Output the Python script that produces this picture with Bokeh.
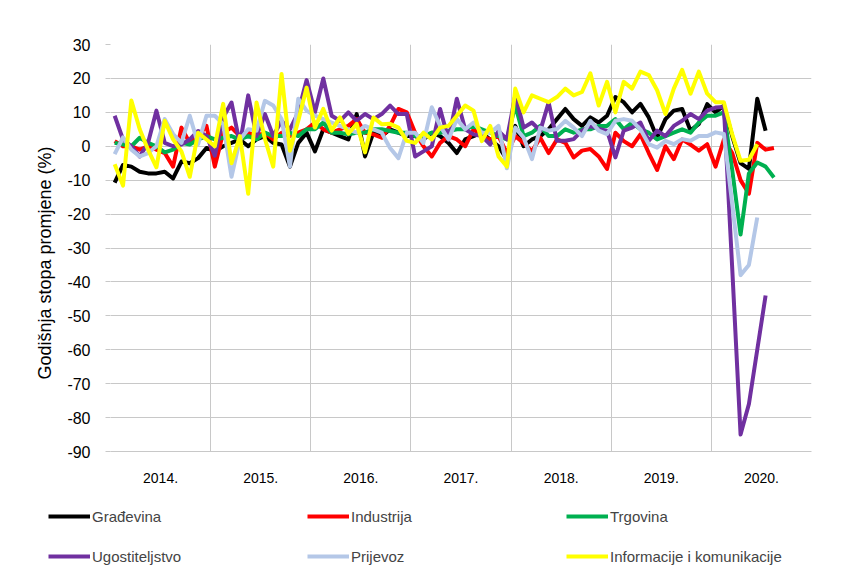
import numpy as np
from bokeh.plotting import figure
from bokeh.models import FixedTicker, Legend, LegendItem
from bokeh.layouts import column
from bokeh.embed import file_html
from bokeh.resources import INLINE

year_labels = ["2014.", "2015.", "2016.", "2017.", "2018.", "2019.", "2020."]
y_ticks = [30, 20, 10, 0, -10, -20, -30, -40, -50, -60, -70, -80, -90]

# Monthly values, Jan 2014 onward
gradjevina = [-10.7, -5.5, -6, -7.5, -8, -8, -7.5, -9.5, -4.5, -5, -3.5, -0.5,
              -1.5, 0, 1, 2, 0, 2, 3, 1, 0.5, -6, 1, 4,
              -1.5, 5, 4, 3, 2, 9.5, -3, 4, 3, 5, 4, 3,
              3, 2, 4, 3, 1, -2, 2, 3, 4, 2, 0, -4,
              6, 0, 2, 3, 5, 8, 11, 8, 6, 8.5, 7, 9,
              14.5, 13, 10, 12.5, 8.5, 2.5, 8, 10.5, 11, 4.6, 6.6, 12.4,
              10, 12, 3, -5, -6.7, 14, 4.6]
industrija = [1.5, 0, 0, -1, 0, -1, -2, -6, 5.5, 1, 3, 6,
              -6, 4, 5.5, 3, 4, 3, 4, 2, 4, 3, 4, 5,
              7, 5, 4, 5, 6, 8, 4, 3.5, 2.5, 6, 11, 10,
              4, 0, -3, 1, 3, 2, 0, 5, 3, 2, 3, -2,
              3, 1, -1.5, 2.5, -2, 2, 1, -3.3, -1.3, -0.8, -3, -6.7,
              4, 1.5, 0, 3.5, -2, -7, 0, -3.8, 2, 0.5, -1.3, 0.6,
              -6, 2, -2, -10, -14, 1, -1, -0.5]
trgovina = [1, 0.5, 0, 2.5, 1, 0, -1.8, -1, 1, 0.5, 2, 3,
            2, 2.5, 3, 2, 3, 2, 4, 3, 3, 4, 3, 5,
            5, 7, 4, 4, 3.5, 4, 4, 5, 5, 4.5, 4, 4,
            3, 3, 4, 4, 4.5, 5, 5, 6, 5, 4, 3, 2,
            12, 3, 4, 6, 3, 3, 5, 4, 5, 5, 6, 6,
            8, 5, 7, 5, 4, 2, 3, 4, 5, 4, 7, 9,
            9, 10, -7, -26, -8, -4.8, -6, -9.2]
ugostiteljstvo = [9, 2, 0, -3, 1, 10.5, 1, 0, 0.5, 2, 4.5, 3,
                  -2.8, 8.5, 12.9, 0.6, 15, 3, 9.5, 3, 7.5, 5, 10, 19.5,
                  10, 20, 9, 7.5, 10, 7.5, 9.5, 8, 9.5, 12, 9.5, 9.5,
                  -3, -1.5, 0, 11, 2, 14, 5, 3.5, 3, 0.5, 4.5, 2,
                  15, 5.5, 7, 4.6, 12.9, 1.6, 1.6, 2.1, 4.6, 6, 5.1, 4.6,
                  -3.3, 4.6, 5.5, 7, 1.6, 4.6, 3, 6, 7.5, 9.5, 8, 10.5,
                  11.4, 11.6, -36, -85, -76, -60, -44]
prijevoz = [-2.3, 2.6, -1, -3, -2, 0, 8, 3.6, 1, 9, 0.6, 9,
            9, 6.5, -9, 2, 5, 4.6, 13.4, 12, 8, -6, 14, 10.5,
            9, 8, 7, 6, 5, 4, 6, 5, 4, -0.5, -3.5, 4,
            4, 1, 11.5, 6, 2, 8, 5, 7, 4, 4, 6, -6.5,
            5.5, 2.6, -3.8, 5.5, 4.6, 5.1, 7.5, 5.5, 3, 7.5, 4.6, 3.6,
            7.5, 8, 7.5, 5, 0.6, -0.4, 1.6, 0.6, 2.1, 1.6, 3, 3,
            4.1, 3.6, -17, -38, -35, -21]
informacije = [-5.3, -11.6, 13.5, 5, -1, -6.2, 7.5, 2, -1.5, -9, 4, 2,
               0, 12.5, -5, 3, -14, 12.9, 2.2, -6, 21.3, -1.3, 7.5, 17.3,
               5.5, 11, 4.6, 8.5, 3.7, 6.6, -1.8, 8.5, 6.5, 6.6, 5.5, 1.6,
               1, 4, 2, 5.5, 6, 9, 12, 10.5, 1.5, 6, -3, -6,
               17, 10, 15, 14, 13, 14.5, 17, 15, 16, 21.5, 12, 19,
               10, 19, 17, 22, 21, 16.5, 9.5, 17, 22.5, 15.5, 22, 15.5,
               13, 13, 3.5, -4.3, -4, 0.6]

series = [
    ("Građevina", gradjevina, "#000000"),
    ("Industrija", industrija, "#FF0000"),
    ("Trgovina", trgovina, "#00B050"),
    ("Ugostiteljstvo", ugostiteljstvo, "#7030A0"),
    ("Prijevoz", prijevoz, "#B4C7E7"),
    ("Informacije i komunikacije", informacije, "#FFFF00"),
]

FONT = "Liberation Sans"
n_years = len(year_labels)
W = 835

p = figure(width=W, height=491, x_range=(0, 12 * n_years), y_range=(-90, 30),
           output_backend="svg", toolbar_location=None,
           min_border_left=110, min_border_right=W - 110 - 701,
           min_border_top=44, min_border_bottom=40)
p.outline_line_color = None

grid_color = "#C8C8C8"
p.xgrid.ticker = FixedTicker(ticks=[12 * k for k in range(1, n_years)])
p.ygrid.ticker = FixedTicker(ticks=y_ticks)
p.xgrid.grid_line_color = grid_color
p.ygrid.grid_line_color = grid_color

centers = [12 * k + 6 for k in range(n_years)]
p.xaxis.ticker = FixedTicker(ticks=centers, minor_ticks=[])
p.xaxis.major_label_overrides = {c: lab for c, lab in zip(centers, year_labels)}
p.xaxis.major_tick_line_color = None
p.xaxis.minor_tick_line_color = None
p.xaxis.axis_line_color = grid_color
p.xaxis.major_label_standoff = 15
p.xaxis.major_label_text_font = FONT
p.xaxis.major_label_text_font_size = "14px"
p.xaxis.major_label_text_color = "#000000"

p.yaxis.ticker = FixedTicker(ticks=y_ticks, minor_ticks=[])
p.yaxis.major_label_overrides = {t: str(t) for t in y_ticks}
p.yaxis.axis_line_color = None
p.yaxis.major_tick_in = 0
p.yaxis.major_tick_out = 5
p.yaxis.major_tick_line_color = grid_color
p.yaxis.minor_tick_line_color = None
p.yaxis.major_label_standoff = 15
p.yaxis.major_label_text_font = FONT
p.yaxis.major_label_text_font_size = "16px"
p.yaxis.major_label_text_color = "#000000"
# trailing no-break spaces move the visible title a little below the frame centre
p.yaxis.axis_label = "Godišnja stopa promjene (%)" + "\u00a0" * 6
p.yaxis.axis_label_text_font = FONT
p.yaxis.axis_label_text_font_style = "normal"
p.yaxis.axis_label_text_font_size = "18px"
p.yaxis.axis_label_text_color = "#000000"
p.yaxis.axis_label_standoff = 9

# Legend figure below the chart (its own frame, not aligned to the chart's)
p2 = figure(width=W, height=90, x_range=(0, 1), y_range=(0, 1),
            output_backend="svg", toolbar_location=None,
            x_axis_location=None, y_axis_location=None,
            min_border_left=0, min_border_right=0, min_border_top=0, min_border_bottom=0)
p2.grid.visible = False
p2.outline_line_color = None
if "frame_align" in p2.properties():
    p2.frame_align = False
    p.frame_align = False

renderers = {}
for name, vals, col in series:
    xs = np.arange(len(vals)) + 0.5
    p.line(xs, vals, line_width=4, line_color=col, line_join="round")
    renderers[name] = p2.line([0.0], [2.0], line_width=4, line_color=col)

# legend fills column by column: order so rows read as in the reference
order = [0, 3, 1, 4, 2, 5]
items = [LegendItem(label=series[k][0], renderers=[renderers[series[k][0]]]) for k in order]

legend = Legend(items=items, ncols=3, location=(48, 15),
                glyph_width=42, glyph_height=20, label_height=20, label_standoff=2,
                label_width=195, spacing=20, padding=0, margin=0,
                border_line_color=None, background_fill_alpha=0,
                label_text_font=FONT, label_text_font_size="15px")
p2.add_layout(legend, "center")

layout = column(p, p2, spacing=0)
open("out.html", "w").write(file_html(layout, INLINE))
